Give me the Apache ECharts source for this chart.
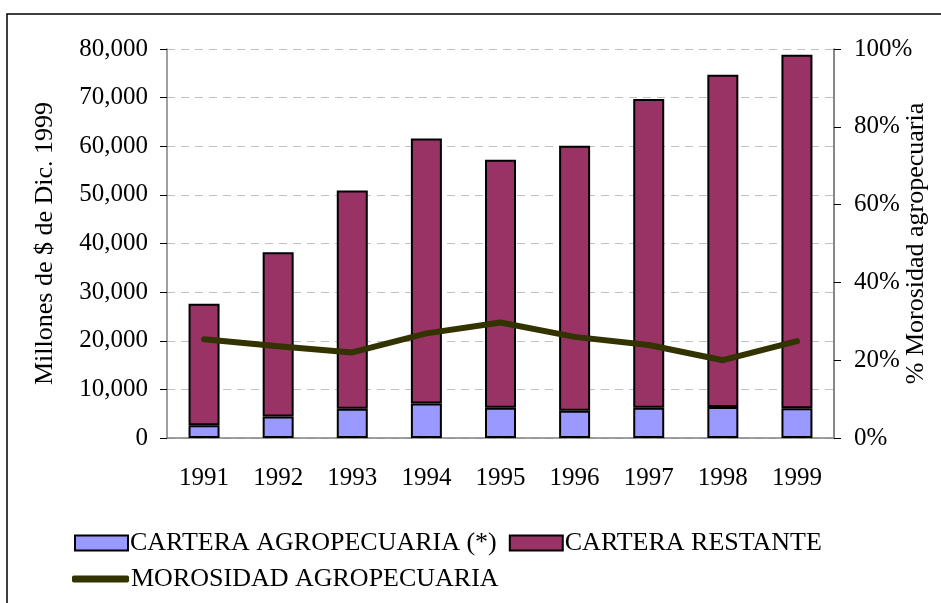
<!DOCTYPE html>
<html>
<head>
<meta charset="utf-8">
<script src="https://cdn.jsdelivr.net/npm/echarts@6/dist/echarts.min.js"></script>
<style>
  html, body { margin: 0; padding: 0; background: #fff; }
  #chart { width: 941px; height: 603px; }
</style>
</head>
<body>
<div id="chart"></div>
<script>
// datos
var anios = ['1991', '1992', '1993', '1994', '1995', '1996', '1997', '1998', '1999'];
var carteraAgro = [2600, 4400, 6000, 7100, 6200, 5600, 6200, 6400, 6100];
var carteraRestante = [25000, 33800, 44900, 54500, 51000, 54500, 63500, 68300, 72700];
var morosidad = [25.4, 23.6, 22.0, 26.9, 29.7, 26.0, 23.9, 20.0, 24.9];

var fuente = '"Liberation Serif", "Times New Roman", serif';

var myChart = echarts.init(document.getElementById('chart'));

var option = {
    animation: false,
    backgroundColor: '#fff',
    graphic: [{
        type: 'rect',
        shape: { x: 7, y: 14, width: 950, height: 600 },
        style: { fill: 'none', stroke: '#000', lineWidth: 1.5 }
    }],
    grid: {
        left: 167,
        right: 107,
        top: 49,
        bottom: 165,
        outerBoundsMode: 'none'
    },
    legend: [{
        data: ['CARTERA AGROPECUARIA (*)', 'CARTERA RESTANTE'],
        left: 74,
        top: 530,
        padding: 0,
        itemWidth: 53,
        itemHeight: 15,
        itemGap: 12,
        icon: 'rect',
        textStyle: { fontFamily: fuente, fontSize: 26, color: '#000', padding: [0, 0, 0, -3] }
    }, {
        data: [{ name: 'MOROSIDAD AGROPECUARIA', icon: 'roundRect' }],
        left: 72,
        top: 566,
        padding: 0,
        itemWidth: 57,
        itemHeight: 7,
        textStyle: { fontFamily: fuente, fontSize: 26, color: '#000', padding: [0, 0, 0, -3] }
    }],
    xAxis: {
        type: 'category',
        data: anios,
        axisLine: { lineStyle: { color: '#808080', width: 1.5 } },
        axisTick: { inside: true, length: 6, lineStyle: { color: '#000' } },
        axisLabel: { fontFamily: fuente, fontSize: 25, color: '#000', margin: 28 }
    },
    yAxis: [{
        type: 'value',
        min: 0,
        max: 80000,
        interval: 10000,
        name: 'Millones de $ de Dic. 1999',
        nameLocation: 'middle',
        nameGap: 109,
        nameMoveOverlap: false,
        nameTextStyle: { fontFamily: fuente, fontSize: 26, color: '#000' },
        axisLine: { show: true, lineStyle: { color: '#808080', width: 1.5 } },
        axisTick: { show: true, length: 7, lineStyle: { color: '#000' } },
        axisLabel: {
            fontFamily: fuente, fontSize: 25, color: '#000', margin: 19,
            formatter: function (v) { return v.toLocaleString('en-US'); }
        },
        splitLine: { lineStyle: { color: '#c0c0c0', type: [8, 6] } }
    }, {
        type: 'value',
        min: 0,
        max: 100,
        interval: 20,
        name: '% Morosidad agropecuaria',
        nameLocation: 'middle',
        nameGap: 69,
        nameMoveOverlap: false,
        nameTextStyle: { fontFamily: fuente, fontSize: 26, color: '#000' },
        axisLine: { show: true, lineStyle: { color: '#606060', width: 1.5 } },
        axisTick: { show: true, length: 7, lineStyle: { color: '#000' } },
        axisLabel: {
            fontFamily: fuente, fontSize: 25, color: '#000', margin: 20,
            formatter: '{value}%'
        },
        splitLine: { show: false }
    }],
    series: [{
        name: 'CARTERA AGROPECUARIA (*)',
        type: 'bar',
        stack: 'cartera',
        data: carteraAgro,
        barWidth: 31,
        itemStyle: { color: '#9999ff', borderColor: '#000', borderWidth: 2 }
    }, {
        name: 'CARTERA RESTANTE',
        type: 'bar',
        stack: 'cartera',
        data: carteraRestante,
        barWidth: 31,
        itemStyle: { color: '#993366', borderColor: '#000', borderWidth: 2 }
    }, {
        name: 'MOROSIDAD AGROPECUARIA',
        type: 'line',
        yAxisIndex: 1,
        data: morosidad,
        symbol: 'none',
        lineStyle: { color: '#333300', width: 6, cap: 'round', join: 'round' },
        itemStyle: { color: '#333300' }
    }]
};

myChart.setOption(option);
</script>
</body>
</html>
